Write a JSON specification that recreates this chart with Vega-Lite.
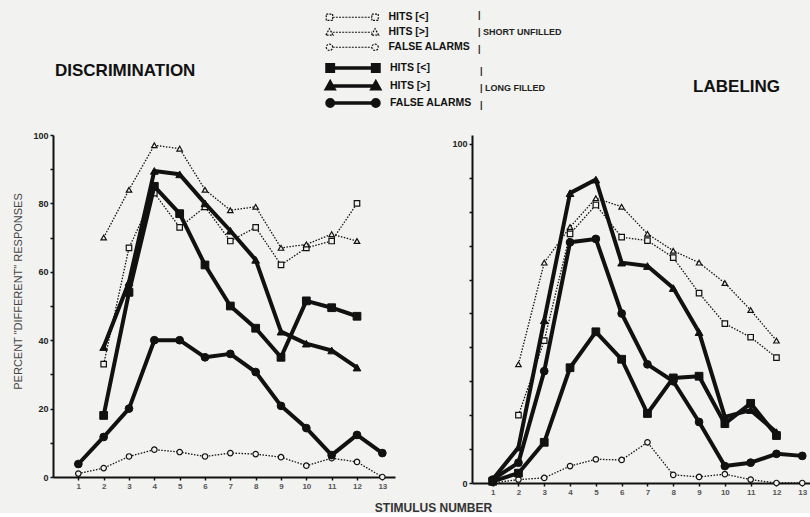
{
  "$schema": "https://vega.github.io/schema/vega-lite/v6.json",
  "background": "#f2f2f0",
  "padding": {"left": 12, "top": 12, "right": 0, "bottom": 0},
  "config": {
    "view": {"stroke": null},
    "font": "Liberation Sans",
    "axis": {
      "grid": false,
      "domainColor": "#111",
      "domainWidth": 2,
      "tickColor": "#111",
      "tickWidth": 1.5,
      "tickSize": 3,
      "labelFont": "Liberation Sans",
      "labelFontSize": 8,
      "labelFontWeight": "bold",
      "labelColor": "#444",
      "labelPadding": 2
    },
    "legend": {
      "orient": "none",
      "titleOrient": "right", "titlePadding": 8,
      "titleFontSize": 9, "titleFontWeight": "bold", "titleColor": "#222", "titleLineHeight": 17,
      "labelFont": "Liberation Sans", "labelFontSize": 10.5, "labelFontWeight": "bold", "labelColor": "#111",
      "symbolSize": 64, "symbolOffset": 22, "labelOffset": 31, "rowPadding": 3,
      "symbolOpacity": 1
    }
  },
  "datasets": {
    "pts": [
      {"task": "DISCRIMINATION", "dur": "SHORT", "series": "HITS [<]", "stim": 2, "pct": 33},
      {"task": "DISCRIMINATION", "dur": "SHORT", "series": "HITS [<]", "stim": 3, "pct": 67},
      {"task": "DISCRIMINATION", "dur": "SHORT", "series": "HITS [<]", "stim": 4, "pct": 83},
      {"task": "DISCRIMINATION", "dur": "SHORT", "series": "HITS [<]", "stim": 5, "pct": 73},
      {"task": "DISCRIMINATION", "dur": "SHORT", "series": "HITS [<]", "stim": 6, "pct": 79},
      {"task": "DISCRIMINATION", "dur": "SHORT", "series": "HITS [<]", "stim": 7, "pct": 69},
      {"task": "DISCRIMINATION", "dur": "SHORT", "series": "HITS [<]", "stim": 8, "pct": 73},
      {"task": "DISCRIMINATION", "dur": "SHORT", "series": "HITS [<]", "stim": 9, "pct": 62},
      {"task": "DISCRIMINATION", "dur": "SHORT", "series": "HITS [<]", "stim": 10, "pct": 67},
      {"task": "DISCRIMINATION", "dur": "SHORT", "series": "HITS [<]", "stim": 11, "pct": 69},
      {"task": "DISCRIMINATION", "dur": "SHORT", "series": "HITS [<]", "stim": 12, "pct": 80},
      {"task": "DISCRIMINATION", "dur": "SHORT", "series": "HITS [>]", "stim": 2, "pct": 70},
      {"task": "DISCRIMINATION", "dur": "SHORT", "series": "HITS [>]", "stim": 3, "pct": 84},
      {"task": "DISCRIMINATION", "dur": "SHORT", "series": "HITS [>]", "stim": 4, "pct": 97},
      {"task": "DISCRIMINATION", "dur": "SHORT", "series": "HITS [>]", "stim": 5, "pct": 96},
      {"task": "DISCRIMINATION", "dur": "SHORT", "series": "HITS [>]", "stim": 6, "pct": 84},
      {"task": "DISCRIMINATION", "dur": "SHORT", "series": "HITS [>]", "stim": 7, "pct": 78},
      {"task": "DISCRIMINATION", "dur": "SHORT", "series": "HITS [>]", "stim": 8, "pct": 79},
      {"task": "DISCRIMINATION", "dur": "SHORT", "series": "HITS [>]", "stim": 9, "pct": 67},
      {"task": "DISCRIMINATION", "dur": "SHORT", "series": "HITS [>]", "stim": 10, "pct": 68},
      {"task": "DISCRIMINATION", "dur": "SHORT", "series": "HITS [>]", "stim": 11, "pct": 71},
      {"task": "DISCRIMINATION", "dur": "SHORT", "series": "HITS [>]", "stim": 12, "pct": 69},
      {"task": "DISCRIMINATION", "dur": "SHORT", "series": "FALSE ALARMS", "stim": 1, "pct": 1},
      {"task": "DISCRIMINATION", "dur": "SHORT", "series": "FALSE ALARMS", "stim": 2, "pct": 2.6},
      {"task": "DISCRIMINATION", "dur": "SHORT", "series": "FALSE ALARMS", "stim": 3, "pct": 6},
      {"task": "DISCRIMINATION", "dur": "SHORT", "series": "FALSE ALARMS", "stim": 4, "pct": 8},
      {"task": "DISCRIMINATION", "dur": "SHORT", "series": "FALSE ALARMS", "stim": 5, "pct": 7.3},
      {"task": "DISCRIMINATION", "dur": "SHORT", "series": "FALSE ALARMS", "stim": 6, "pct": 6},
      {"task": "DISCRIMINATION", "dur": "SHORT", "series": "FALSE ALARMS", "stim": 7, "pct": 7},
      {"task": "DISCRIMINATION", "dur": "SHORT", "series": "FALSE ALARMS", "stim": 8, "pct": 6.7},
      {"task": "DISCRIMINATION", "dur": "SHORT", "series": "FALSE ALARMS", "stim": 9, "pct": 5.8},
      {"task": "DISCRIMINATION", "dur": "SHORT", "series": "FALSE ALARMS", "stim": 10, "pct": 3.3},
      {"task": "DISCRIMINATION", "dur": "SHORT", "series": "FALSE ALARMS", "stim": 11, "pct": 5.5},
      {"task": "DISCRIMINATION", "dur": "SHORT", "series": "FALSE ALARMS", "stim": 12, "pct": 4.4},
      {"task": "DISCRIMINATION", "dur": "SHORT", "series": "FALSE ALARMS", "stim": 13, "pct": 0},
      {"task": "DISCRIMINATION", "dur": "LONG", "series": "HITS [<]", "stim": 2, "pct": 18},
      {"task": "DISCRIMINATION", "dur": "LONG", "series": "HITS [<]", "stim": 3, "pct": 54},
      {"task": "DISCRIMINATION", "dur": "LONG", "series": "HITS [<]", "stim": 4, "pct": 85},
      {"task": "DISCRIMINATION", "dur": "LONG", "series": "HITS [<]", "stim": 5, "pct": 77},
      {"task": "DISCRIMINATION", "dur": "LONG", "series": "HITS [<]", "stim": 6, "pct": 62},
      {"task": "DISCRIMINATION", "dur": "LONG", "series": "HITS [<]", "stim": 7, "pct": 50},
      {"task": "DISCRIMINATION", "dur": "LONG", "series": "HITS [<]", "stim": 8, "pct": 43.5},
      {"task": "DISCRIMINATION", "dur": "LONG", "series": "HITS [<]", "stim": 9, "pct": 35},
      {"task": "DISCRIMINATION", "dur": "LONG", "series": "HITS [<]", "stim": 10, "pct": 51.5},
      {"task": "DISCRIMINATION", "dur": "LONG", "series": "HITS [<]", "stim": 11, "pct": 49.5},
      {"task": "DISCRIMINATION", "dur": "LONG", "series": "HITS [<]", "stim": 12, "pct": 47},
      {"task": "DISCRIMINATION", "dur": "LONG", "series": "HITS [>]", "stim": 2, "pct": 38},
      {"task": "DISCRIMINATION", "dur": "LONG", "series": "HITS [>]", "stim": 3, "pct": 57},
      {"task": "DISCRIMINATION", "dur": "LONG", "series": "HITS [>]", "stim": 4, "pct": 89.5},
      {"task": "DISCRIMINATION", "dur": "LONG", "series": "HITS [>]", "stim": 5, "pct": 88.5},
      {"task": "DISCRIMINATION", "dur": "LONG", "series": "HITS [>]", "stim": 6, "pct": 80},
      {"task": "DISCRIMINATION", "dur": "LONG", "series": "HITS [>]", "stim": 7, "pct": 72},
      {"task": "DISCRIMINATION", "dur": "LONG", "series": "HITS [>]", "stim": 8, "pct": 63.5},
      {"task": "DISCRIMINATION", "dur": "LONG", "series": "HITS [>]", "stim": 9, "pct": 42.5},
      {"task": "DISCRIMINATION", "dur": "LONG", "series": "HITS [>]", "stim": 10, "pct": 39},
      {"task": "DISCRIMINATION", "dur": "LONG", "series": "HITS [>]", "stim": 11, "pct": 37},
      {"task": "DISCRIMINATION", "dur": "LONG", "series": "HITS [>]", "stim": 12, "pct": 32},
      {"task": "DISCRIMINATION", "dur": "LONG", "series": "FALSE ALARMS", "stim": 1, "pct": 3.8},
      {"task": "DISCRIMINATION", "dur": "LONG", "series": "FALSE ALARMS", "stim": 2, "pct": 11.7},
      {"task": "DISCRIMINATION", "dur": "LONG", "series": "FALSE ALARMS", "stim": 3, "pct": 20},
      {"task": "DISCRIMINATION", "dur": "LONG", "series": "FALSE ALARMS", "stim": 4, "pct": 40},
      {"task": "DISCRIMINATION", "dur": "LONG", "series": "FALSE ALARMS", "stim": 5, "pct": 40},
      {"task": "DISCRIMINATION", "dur": "LONG", "series": "FALSE ALARMS", "stim": 6, "pct": 35},
      {"task": "DISCRIMINATION", "dur": "LONG", "series": "FALSE ALARMS", "stim": 7, "pct": 36},
      {"task": "DISCRIMINATION", "dur": "LONG", "series": "FALSE ALARMS", "stim": 8, "pct": 30.7},
      {"task": "DISCRIMINATION", "dur": "LONG", "series": "FALSE ALARMS", "stim": 9, "pct": 20.8},
      {"task": "DISCRIMINATION", "dur": "LONG", "series": "FALSE ALARMS", "stim": 10, "pct": 14.3},
      {"task": "DISCRIMINATION", "dur": "LONG", "series": "FALSE ALARMS", "stim": 11, "pct": 6.4},
      {"task": "DISCRIMINATION", "dur": "LONG", "series": "FALSE ALARMS", "stim": 12, "pct": 12.3},
      {"task": "DISCRIMINATION", "dur": "LONG", "series": "FALSE ALARMS", "stim": 13, "pct": 7},

      {"task": "LABELING", "dur": "SHORT", "series": "HITS [<]", "stim": 2, "pct": 20},
      {"task": "LABELING", "dur": "SHORT", "series": "HITS [<]", "stim": 3, "pct": 42},
      {"task": "LABELING", "dur": "SHORT", "series": "HITS [<]", "stim": 4, "pct": 73.5},
      {"task": "LABELING", "dur": "SHORT", "series": "HITS [<]", "stim": 5, "pct": 82},
      {"task": "LABELING", "dur": "SHORT", "series": "HITS [<]", "stim": 6, "pct": 72.5},
      {"task": "LABELING", "dur": "SHORT", "series": "HITS [<]", "stim": 7, "pct": 71.5},
      {"task": "LABELING", "dur": "SHORT", "series": "HITS [<]", "stim": 8, "pct": 66.5},
      {"task": "LABELING", "dur": "SHORT", "series": "HITS [<]", "stim": 9, "pct": 56},
      {"task": "LABELING", "dur": "SHORT", "series": "HITS [<]", "stim": 10, "pct": 47},
      {"task": "LABELING", "dur": "SHORT", "series": "HITS [<]", "stim": 11, "pct": 43},
      {"task": "LABELING", "dur": "SHORT", "series": "HITS [<]", "stim": 12, "pct": 37},
      {"task": "LABELING", "dur": "SHORT", "series": "HITS [>]", "stim": 2, "pct": 35},
      {"task": "LABELING", "dur": "SHORT", "series": "HITS [>]", "stim": 3, "pct": 65},
      {"task": "LABELING", "dur": "SHORT", "series": "HITS [>]", "stim": 4, "pct": 75.5},
      {"task": "LABELING", "dur": "SHORT", "series": "HITS [>]", "stim": 5, "pct": 84},
      {"task": "LABELING", "dur": "SHORT", "series": "HITS [>]", "stim": 6, "pct": 81.5},
      {"task": "LABELING", "dur": "SHORT", "series": "HITS [>]", "stim": 7, "pct": 73.5},
      {"task": "LABELING", "dur": "SHORT", "series": "HITS [>]", "stim": 8, "pct": 68.5},
      {"task": "LABELING", "dur": "SHORT", "series": "HITS [>]", "stim": 9, "pct": 65},
      {"task": "LABELING", "dur": "SHORT", "series": "HITS [>]", "stim": 10, "pct": 59},
      {"task": "LABELING", "dur": "SHORT", "series": "HITS [>]", "stim": 11, "pct": 51},
      {"task": "LABELING", "dur": "SHORT", "series": "HITS [>]", "stim": 12, "pct": 42},
      {"task": "LABELING", "dur": "SHORT", "series": "FALSE ALARMS", "stim": 1, "pct": 0},
      {"task": "LABELING", "dur": "SHORT", "series": "FALSE ALARMS", "stim": 2, "pct": 1},
      {"task": "LABELING", "dur": "SHORT", "series": "FALSE ALARMS", "stim": 3, "pct": 1.5},
      {"task": "LABELING", "dur": "SHORT", "series": "FALSE ALARMS", "stim": 4, "pct": 5},
      {"task": "LABELING", "dur": "SHORT", "series": "FALSE ALARMS", "stim": 5, "pct": 7},
      {"task": "LABELING", "dur": "SHORT", "series": "FALSE ALARMS", "stim": 6, "pct": 6.8},
      {"task": "LABELING", "dur": "SHORT", "series": "FALSE ALARMS", "stim": 7, "pct": 12},
      {"task": "LABELING", "dur": "SHORT", "series": "FALSE ALARMS", "stim": 8, "pct": 2.4},
      {"task": "LABELING", "dur": "SHORT", "series": "FALSE ALARMS", "stim": 9, "pct": 1.8},
      {"task": "LABELING", "dur": "SHORT", "series": "FALSE ALARMS", "stim": 10, "pct": 2.6},
      {"task": "LABELING", "dur": "SHORT", "series": "FALSE ALARMS", "stim": 11, "pct": 1},
      {"task": "LABELING", "dur": "SHORT", "series": "FALSE ALARMS", "stim": 12, "pct": 0},
      {"task": "LABELING", "dur": "SHORT", "series": "FALSE ALARMS", "stim": 13, "pct": 0},
      {"task": "LABELING", "dur": "LONG", "series": "HITS [<]", "stim": 1, "pct": 0.5},
      {"task": "LABELING", "dur": "LONG", "series": "HITS [<]", "stim": 2, "pct": 2.9},
      {"task": "LABELING", "dur": "LONG", "series": "HITS [<]", "stim": 3, "pct": 12},
      {"task": "LABELING", "dur": "LONG", "series": "HITS [<]", "stim": 4, "pct": 34},
      {"task": "LABELING", "dur": "LONG", "series": "HITS [<]", "stim": 5, "pct": 44.6},
      {"task": "LABELING", "dur": "LONG", "series": "HITS [<]", "stim": 6, "pct": 36.5},
      {"task": "LABELING", "dur": "LONG", "series": "HITS [<]", "stim": 7, "pct": 20.5},
      {"task": "LABELING", "dur": "LONG", "series": "HITS [<]", "stim": 8, "pct": 31},
      {"task": "LABELING", "dur": "LONG", "series": "HITS [<]", "stim": 9, "pct": 31.5},
      {"task": "LABELING", "dur": "LONG", "series": "HITS [<]", "stim": 10, "pct": 17.5},
      {"task": "LABELING", "dur": "LONG", "series": "HITS [<]", "stim": 11, "pct": 23.5},
      {"task": "LABELING", "dur": "LONG", "series": "HITS [<]", "stim": 12, "pct": 14},
      {"task": "LABELING", "dur": "LONG", "series": "HITS [>]", "stim": 1, "pct": 1},
      {"task": "LABELING", "dur": "LONG", "series": "HITS [>]", "stim": 2, "pct": 10.5},
      {"task": "LABELING", "dur": "LONG", "series": "HITS [>]", "stim": 3, "pct": 48},
      {"task": "LABELING", "dur": "LONG", "series": "HITS [>]", "stim": 4, "pct": 85.5},
      {"task": "LABELING", "dur": "LONG", "series": "HITS [>]", "stim": 5, "pct": 89.5},
      {"task": "LABELING", "dur": "LONG", "series": "HITS [>]", "stim": 6, "pct": 65},
      {"task": "LABELING", "dur": "LONG", "series": "HITS [>]", "stim": 7, "pct": 64},
      {"task": "LABELING", "dur": "LONG", "series": "HITS [>]", "stim": 8, "pct": 57.5},
      {"task": "LABELING", "dur": "LONG", "series": "HITS [>]", "stim": 9, "pct": 44.5},
      {"task": "LABELING", "dur": "LONG", "series": "HITS [>]", "stim": 10, "pct": 19.5},
      {"task": "LABELING", "dur": "LONG", "series": "HITS [>]", "stim": 11, "pct": 21.5},
      {"task": "LABELING", "dur": "LONG", "series": "HITS [>]", "stim": 12, "pct": 15},
      {"task": "LABELING", "dur": "LONG", "series": "FALSE ALARMS", "stim": 1, "pct": 1},
      {"task": "LABELING", "dur": "LONG", "series": "FALSE ALARMS", "stim": 2, "pct": 6},
      {"task": "LABELING", "dur": "LONG", "series": "FALSE ALARMS", "stim": 3, "pct": 33},
      {"task": "LABELING", "dur": "LONG", "series": "FALSE ALARMS", "stim": 4, "pct": 71},
      {"task": "LABELING", "dur": "LONG", "series": "FALSE ALARMS", "stim": 5, "pct": 72},
      {"task": "LABELING", "dur": "LONG", "series": "FALSE ALARMS", "stim": 6, "pct": 50},
      {"task": "LABELING", "dur": "LONG", "series": "FALSE ALARMS", "stim": 7, "pct": 35},
      {"task": "LABELING", "dur": "LONG", "series": "FALSE ALARMS", "stim": 8, "pct": 30},
      {"task": "LABELING", "dur": "LONG", "series": "FALSE ALARMS", "stim": 9, "pct": 18},
      {"task": "LABELING", "dur": "LONG", "series": "FALSE ALARMS", "stim": 10, "pct": 5},
      {"task": "LABELING", "dur": "LONG", "series": "FALSE ALARMS", "stim": 11, "pct": 6},
      {"task": "LABELING", "dur": "LONG", "series": "FALSE ALARMS", "stim": 12, "pct": 8.6},
      {"task": "LABELING", "dur": "LONG", "series": "FALSE ALARMS", "stim": 13, "pct": 8}
    ]
  },
  "bounds": "flush",
  "spacing": 77,
  "resolve": {"scale": {"shape": "independent"}, "legend": {"shape": "independent"}},
  "hconcat": [
    {
      "width": 342,
      "height": 342,
      "title": {"text": "DISCRIMINATION", "frame": "group", "anchor": "start", "offset": 0, "dx": 2, "dy": 68, "fontSize": 17, "font": "Liberation Sans", "fontWeight": "bold", "color": "#111"},
      "data": {"name": "pts"},
      "transform": [{"filter": "datum.task === 'DISCRIMINATION'"}],
      "encoding": {
        "x": {
          "field": "stim", "type": "quantitative",
          "scale": {"domain": [0, 13.5], "nice": false, "zero": false},
          "axis": {
            "values": [1, 2, 3, 4, 5, 6, 7, 8, 9, 10, 11, 12, 13],
            "title": "STIMULUS NUMBER",
            "titleX": 380, "titleY": 30,
            "titleAlign": "center", "titleBaseline": "middle",
            "titleFontSize": 12, "titleFontWeight": "bold", "titleColor": "#333",
            "labelColor": "#555"
          }
        },
        "y": {
          "field": "pct", "type": "quantitative",
          "scale": {"domain": [0, 100], "nice": false},
          "axis": {
            "values": [0, 10, 20, 30, 40, 50, 60, 70, 80, 90, 100],
            "labelExpr": "datum.value % 20 === 0 ? datum.label : ''",
            "labelFontSize": 9, "labelColor": "#222",
            "title": "PERCENT \"DIFFERENT\" RESPONSES",
            "titleX": -35, "titleY": 156,
            "titleAlign": "center", "titleBaseline": "middle",
            "titleFontSize": 11, "titleFontWeight": "normal", "titleColor": "#444"
          }
        }
      },
      "layer": [
        {
          "transform": [{"filter": "datum.dur === 'SHORT'"}],
          "mark": {"type": "line", "strokeDash": [1.5, 1.5], "strokeWidth": 1.3, "color": "#111"},
          "encoding": {"detail": {"field": "series"}}
        },
        {
          "transform": [{"filter": "datum.dur === 'SHORT'"}],
          "mark": {"type": "point", "filled": true, "fill": "#f2f2f0", "stroke": "#111", "strokeWidth": 1.2, "size": 30, "opacity": 1},
          "encoding": {
            "shape": {
              "field": "series", "type": "nominal",
              "scale": {"domain": ["HITS [<]", "HITS [>]", "FALSE ALARMS"], "range": ["square", "triangle-up", "circle"]},
              "legend": null
            }
          }
        },
        {
          "transform": [{"filter": "datum.dur === 'KEY'"}],
          "mark": {"type": "point", "filled": true, "fill": "#f2f2f0", "stroke": "#111", "strokeWidth": 1.2, "strokeDash": [2, 1.2]},
          "encoding": {
            "shape": {
              "field": "series", "type": "nominal",
              "scale": {
                "domain": ["HITS [<]", "HITS [>]", "FALSE ALARMS"],
                "range": [
                  "M-4.9,0H4.9M-6.5,-0.8h1.6v1.6h-1.6zM4.9,-0.8h1.6v1.6h-1.6z",
                  "M-4.9,0H4.9M-6.6,0.7L-5.7,-0.9L-4.8,0.7zM4.8,0.7L5.7,-0.9L6.6,0.7z",
                  "M-4.9,0H4.9M-4.9,0A0.8,0.8,0,1,0,-6.5,0A0.8,0.8,0,1,0,-4.9,0zM6.5,0A0.8,0.8,0,1,0,4.9,0A0.8,0.8,0,1,0,6.5,0z"
                ]
              },
              "legend": {
                "legendX": 272, "legendY": -123,
                "title": ["|", "| SHORT UNFILLED", "|"],
                "symbolStrokeWidth": 1.2, "symbolDash": [2, 1.2]
              }
            }
          }
        },
        {
          "transform": [{"filter": "datum.dur === 'LONG'"}],
          "mark": {"type": "line", "strokeWidth": 4, "color": "#111", "strokeJoin": "round", "strokeCap": "round"},
          "encoding": {"detail": {"field": "series"}}
        },
        {
          "transform": [{"filter": "datum.dur === 'LONG'"}],
          "mark": {"type": "point", "filled": true, "fill": "#111", "stroke": "#111", "strokeWidth": 1, "size": 60, "opacity": 1},
          "encoding": {
            "shape": {
              "field": "series", "type": "nominal",
              "scale": {"domain": ["HITS [<]", "HITS [>]", "FALSE ALARMS"], "range": ["square", "triangle-up", "circle"]},
              "legend": null
            }
          }
        },
        {
          "transform": [{"filter": "datum.dur === 'KEY'"}],
          "mark": {"type": "point", "filled": true, "fill": "#111", "stroke": "#111", "strokeWidth": 3.5},
          "encoding": {
            "shape": {
              "field": "series", "type": "nominal",
              "scale": {
                "domain": ["HITS [<]", "HITS [>]", "FALSE ALARMS"],
                "range": [
                  "M-4.9,0H4.9M-6.5,-0.8h1.6v1.6h-1.6zM4.9,-0.8h1.6v1.6h-1.6z",
                  "M-4.9,0H4.9M-6.6,0.7L-5.7,-0.9L-4.8,0.7zM4.8,0.7L5.7,-0.9L6.6,0.7z",
                  "M-4.9,0H4.9M-4.9,0A0.8,0.8,0,1,0,-6.5,0A0.8,0.8,0,1,0,-4.9,0zM6.5,0A0.8,0.8,0,1,0,4.9,0A0.8,0.8,0,1,0,6.5,0z"
                ]
              },
              "legend": {
                "legendX": 272, "legendY": -73,
                "title": ["|", "| LONG FILLED", "|"],
                "symbolStrokeWidth": 3.5, "rowPadding": -4
              }
            }
          }
        }
      ],
      "resolve": {"scale": {"shape": "independent"}}
    },
    {
      "width": 338,
      "height": 348,
      "title": {"text": "LABELING", "frame": "group", "anchor": "end", "offset": 39, "dx": -30, "fontSize": 17, "font": "Liberation Sans", "fontWeight": "bold", "color": "#111"},
      "data": {"name": "pts"},
      "transform": [{"filter": "datum.task === 'LABELING'"}],
      "encoding": {
        "x": {
          "field": "stim", "type": "quantitative",
          "scale": {"domain": [0.2, 13.3], "nice": false, "zero": false},
          "axis": {
            "values": [1, 2, 3, 4, 5, 6, 7, 8, 9, 10, 11, 12, 13],
            "title": null,
            "labelColor": "#555"
          }
        },
        "y": {
          "field": "pct", "type": "quantitative",
          "scale": {"domain": [0, 102.65], "nice": false},
          "axis": {
            "values": [0, 10, 20, 30, 40, 50, 60, 70, 80, 90, 100],
            "labelExpr": "datum.value === 0 || datum.value === 100 ? datum.label : ''",
            "labelFontSize": 9, "labelColor": "#222",
            "title": null
          }
        }
      },
      "layer": [
        {
          "transform": [{"filter": "datum.dur === 'SHORT'"}],
          "mark": {"type": "line", "strokeDash": [1.5, 1.5], "strokeWidth": 1.3, "color": "#111"},
          "encoding": {"detail": {"field": "series"}}
        },
        {
          "transform": [{"filter": "datum.dur === 'SHORT'"}],
          "mark": {"type": "point", "filled": true, "fill": "#f2f2f0", "stroke": "#111", "strokeWidth": 1.2, "size": 30, "opacity": 1},
          "encoding": {
            "shape": {
              "field": "series", "type": "nominal",
              "scale": {"domain": ["HITS [<]", "HITS [>]", "FALSE ALARMS"], "range": ["square", "triangle-up", "circle"]},
              "legend": null
            }
          }
        },
        {
          "transform": [{"filter": "datum.dur === 'LONG'"}],
          "mark": {"type": "line", "strokeWidth": 4, "color": "#111", "strokeJoin": "round", "strokeCap": "round"},
          "encoding": {"detail": {"field": "series"}}
        },
        {
          "transform": [{"filter": "datum.dur === 'LONG'"}],
          "mark": {"type": "point", "filled": true, "fill": "#111", "stroke": "#111", "strokeWidth": 1, "size": 60, "opacity": 1},
          "encoding": {
            "shape": {
              "field": "series", "type": "nominal",
              "scale": {"domain": ["HITS [<]", "HITS [>]", "FALSE ALARMS"], "range": ["square", "triangle-up", "circle"]},
              "legend": null
            }
          }
        }
      ],
      "resolve": {"scale": {"shape": "independent"}}
    }
  ]
}
